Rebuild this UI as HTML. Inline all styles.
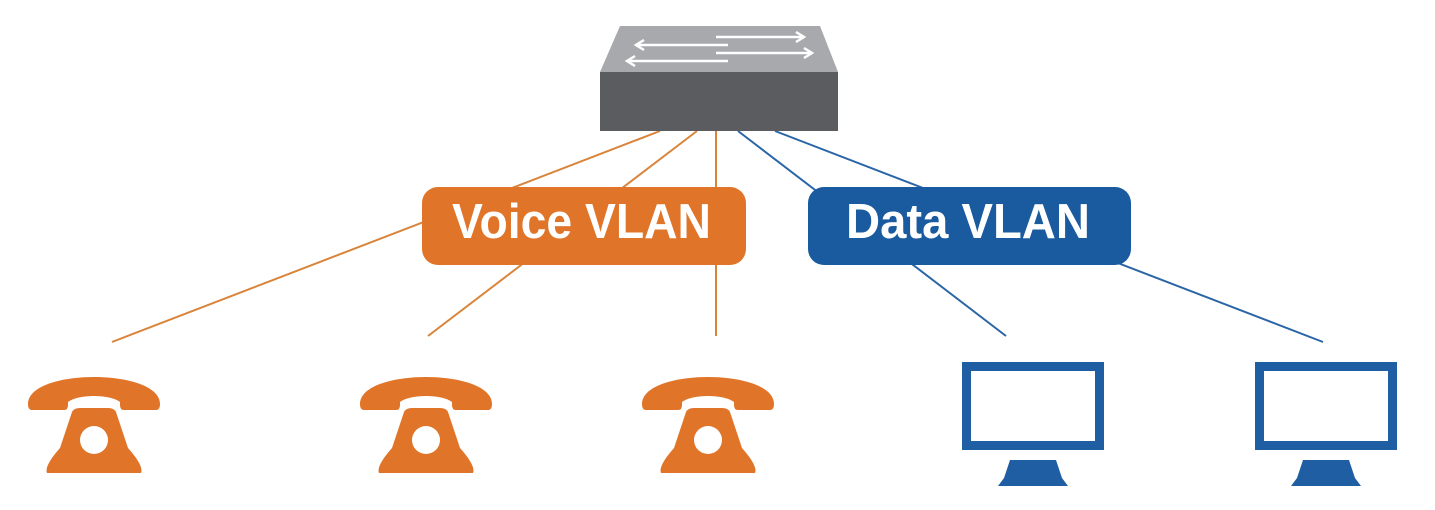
<!DOCTYPE html>
<html><head><meta charset="utf-8"><style>
html,body{margin:0;padding:0;background:#fff;width:1435px;height:510px;overflow:hidden}
</style></head><body>
<svg width="1435" height="510" viewBox="0 0 1435 510" xmlns="http://www.w3.org/2000/svg">
<defs>
<g id="phone" fill="#e07428">
<path d="M4,410 Q0,410 0,404 C0,368 132,368 132,404 Q132,410 128,410 L96,410 Q92,410 92,405 L92,402 C82,394 50,394 40,402 L40,405 Q40,410 36,410 Z"/>
<path d="M44,412 Q46,408 52,408 L80,408 Q86,408 88,412 L100,448 Q116,466 113,473 L19,473 Q16,466 32,448 Z"/>
<circle cx="66" cy="440" r="14" fill="#fff"/>
</g>
<g id="mon" fill="#1f5ea3">
<path fill-rule="evenodd" d="M0,362 H142 V450 H0 Z M9,371 V441 H133 V371 Z"/>
<path d="M48,460 H94 L100,478 L106,486 H36 L42,478 Z"/>
</g>
</defs>
<g stroke="#d9843a" stroke-width="2">
<line x1="660" y1="131" x2="112" y2="342"/>
<line x1="697" y1="131" x2="428" y2="336"/>
<line x1="716" y1="131" x2="716" y2="336"/>
</g>
<g stroke="#2a65a6" stroke-width="2">
<line x1="738" y1="131" x2="1006" y2="336"/>
<line x1="775" y1="131" x2="1323" y2="342"/>
</g>
<polygon points="620,26 820,26 838,72 600,72" fill="#a7a9ac"/>
<rect x="600" y="72" width="238" height="59" fill="#5b5c5f"/>
<g stroke="#fff" stroke-width="2.5" fill="none">
<line x1="636" y1="45" x2="728" y2="45"/><polyline points="644,40 636,45 644,50"/>
<line x1="627" y1="61" x2="728" y2="61"/><polyline points="635,56 627,61 635,66"/>
<line x1="716" y1="37" x2="804" y2="37"/><polyline points="796,32 804,37 796,42"/>
<line x1="716" y1="53" x2="812" y2="53"/><polyline points="804,48 812,53 804,58"/>
</g>
<rect x="422" y="187" width="324" height="78" rx="16" fill="#e07428"/>
<rect x="808" y="187" width="323" height="78" rx="16" fill="#1a5a9e"/>
<g font-family="Liberation Sans, sans-serif" font-weight="bold" font-size="49" fill="#fff">
<text x="452" y="238" textLength="259" lengthAdjust="spacingAndGlyphs">Voice VLAN</text>
<text x="846" y="238" textLength="244" lengthAdjust="spacingAndGlyphs">Data VLAN</text>
</g>
<use href="#phone" x="28"/>
<use href="#phone" x="360"/>
<use href="#phone" x="642"/>
<use href="#mon" x="962"/>
<use href="#mon" x="1255"/>
</svg>
</body></html>
